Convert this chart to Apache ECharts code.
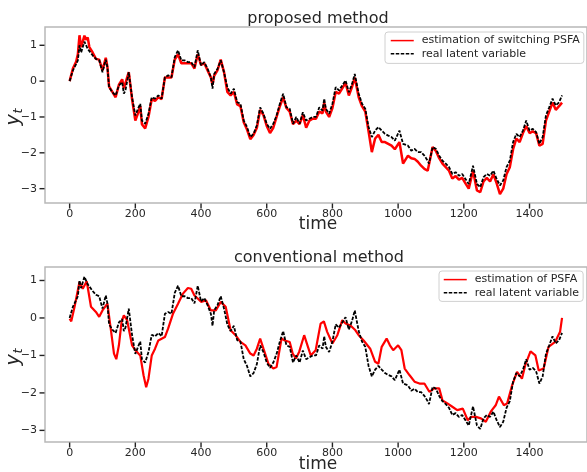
<!DOCTYPE html>
<html>
<head>
<meta charset="utf-8">
<script src="https://cdn.jsdelivr.net/npm/echarts@6/dist/echarts.min.js"></script>
<style>html,body{margin:0;padding:0;background:#fff;}#c{width:587px;height:472px;}</style>
</head>
<body>
<div id="c"></div>
<script>
// ---- data ----
var xTicks = [0, 200, 400, 600, 800, 1000, 1200, 1400];
var yTicks = [-3, -2, -1, 0, 1];

var latentT = [0,3,10,20,25,30,35,40,45,50,55,60,70,80,90,100,110,115,120,130,140,150,160,165,170,180,190,200,210,215,220,230,240,250,260,270,280,290,300,310,320,330,340,350,360,370,380,390,400,410,420,430,435,440,450,460,470,480,490,500,510,520,530,540,550,560,570,580,590,600,610,620,630,640,650,660,670,680,690,700,710,720,730,740,750,760,770,775,780,790,800,810,820,830,840,850,860,868,880,890,900,910,920,930,940,950,960,970,980,990,1004,1015,1030,1040,1050,1060,1070,1080,1090,1094,1105,1115,1125,1135,1145,1155,1165,1175,1185,1195,1205,1215,1228,1240,1250,1260,1270,1280,1290,1300,1310,1320,1330,1340,1350,1360,1370,1380,1390,1400,1410,1420,1430,1440,1450,1460,1470,1480,1490,1499];
var latentY = [0.0,-0.05,0.3,0.48,0.58,1.0,0.8,0.95,1.1,1.05,0.9,0.86,0.72,0.62,0.58,0.25,0.6,0.39,-0.17,-0.31,-0.4,-0.12,-0.03,-0.35,-0.26,0.25,-0.45,-0.96,-0.73,-0.63,-1.1,-1.19,-0.91,-0.45,-0.49,-0.4,-0.49,0.11,0.16,0.11,0.67,0.86,0.58,0.58,0.53,0.53,0.39,0.86,0.44,0.53,0.34,0.11,-0.21,0.2,0.34,0.58,0.25,-0.17,-0.35,-0.21,-0.59,-0.63,-1.1,-1.28,-1.56,-1.47,-1.23,-0.73,-0.91,-1.19,-1.33,-1.19,-0.96,-0.63,-0.35,-0.73,-0.77,-1.19,-1.0,-1.19,-0.87,-1.1,-1.05,-1.0,-1.0,-0.73,-0.82,-0.49,-0.77,-0.91,-0.63,-0.17,-0.26,-0.12,0.02,-0.31,-0.07,0.2,-0.35,-0.63,-0.77,-1.28,-1.56,-1.38,-1.28,-1.38,-1.47,-1.52,-1.56,-1.66,-1.38,-1.75,-1.8,-1.94,-1.89,-1.98,-1.98,-2.08,-2.22,-2.3,-1.84,-1.89,-2.08,-2.22,-2.3,-2.4,-2.59,-2.54,-2.64,-2.59,-2.73,-2.87,-2.36,-2.87,-2.96,-2.68,-2.59,-2.64,-2.5,-2.73,-2.91,-2.77,-2.4,-2.22,-1.7,-1.47,-1.56,-1.38,-1.1,-1.38,-1.33,-1.42,-1.75,-1.56,-0.96,-0.73,-0.49,-0.68,-0.59,-0.4];

// proposed method estimate (switching PSFA), same time stamps as latentT
var propY = [0.0,0.0,0.35,0.55,0.75,1.28,0.95,1.1,1.27,1.15,1.22,0.95,0.8,0.62,0.6,0.3,0.65,0.4,-0.15,-0.3,-0.45,-0.1,0.05,-0.2,-0.15,0.25,-0.5,-1.1,-0.85,-0.7,-1.2,-1.32,-1.0,-0.5,-0.55,-0.45,-0.5,0.1,0.1,0.1,0.6,0.75,0.5,0.5,0.5,0.5,0.35,0.75,0.45,0.5,0.3,0.1,-0.1,0.15,0.3,0.6,0.25,-0.3,-0.4,-0.3,-0.65,-0.7,-1.15,-1.35,-1.62,-1.5,-1.3,-0.8,-0.95,-1.25,-1.45,-1.3,-1.0,-0.7,-0.45,-0.75,-0.85,-1.2,-1.1,-1.2,-0.95,-1.3,-1.1,-1.05,-1.05,-0.85,-0.9,-0.6,-0.85,-1.0,-0.75,-0.3,-0.35,-0.2,-0.05,-0.4,-0.15,0.1,-0.45,-0.7,-0.85,-1.4,-1.98,-1.6,-1.5,-1.7,-1.7,-1.75,-1.8,-1.9,-1.7,-2.3,-2.08,-2.15,-2.17,-2.25,-2.36,-2.45,-2.5,-2.55,-1.84,-1.95,-2.15,-2.3,-2.4,-2.5,-2.72,-2.65,-2.75,-2.7,-2.85,-3.0,-2.5,-3.05,-3.1,-2.8,-2.7,-2.8,-2.6,-2.85,-3.15,-3.0,-2.6,-2.4,-1.9,-1.6,-1.7,-1.45,-1.25,-1.45,-1.4,-1.45,-1.8,-1.75,-1.1,-0.85,-0.6,-0.8,-0.7,-0.6];

// conventional method estimate (PSFA)
var convT = [0,5,15,30,40,52,65,80,90,100,115,125,135,142,150,158,165,175,190,200,215,225,233,240,250,260,270,290,300,315,330,345,360,370,380,390,400,415,430,445,460,475,490,505,520,535,550,560,570,580,590,605,620,630,645,655,670,679,689,699,714,724,734,749,764,774,784,800,815,830,840,855,870,880,895,915,930,940,950,965,975,985,1000,1010,1020,1035,1050,1065,1080,1095,1110,1125,1135,1150,1165,1180,1197,1212,1222,1237,1252,1267,1282,1297,1307,1322,1332,1347,1362,1377,1387,1403,1418,1428,1443,1458,1478,1493,1499];
var convY = [-0.02,-0.09,0.3,0.96,0.78,0.98,0.3,0.16,0.03,0.2,0.38,-0.28,-0.95,-1.1,-0.73,-0.11,0.07,-0.06,-0.73,-0.86,-1.0,-1.53,-1.85,-1.62,-1.0,-0.82,-0.6,-0.51,-0.28,0.12,0.38,0.65,0.8,0.78,0.6,0.52,0.43,0.47,0.2,0.2,0.43,0.3,-0.33,-0.46,-0.64,-0.73,-0.95,-1.0,-0.82,-0.55,-0.82,-1.22,-1.35,-1.31,-0.55,-0.6,-0.64,-0.95,-1.08,-0.9,-0.46,-0.73,-1.0,-0.86,-0.15,-0.09,-0.37,-0.68,-0.46,-0.06,-0.15,-0.2,-0.33,-0.46,-0.6,-0.82,-1.17,-1.22,-0.77,-0.55,-0.73,-0.86,-0.73,-0.86,-1.35,-1.53,-1.7,-1.75,-1.75,-1.97,-1.88,-1.88,-2.2,-2.28,-2.37,-2.46,-2.42,-2.73,-2.64,-2.64,-2.68,-2.77,-2.5,-2.33,-2.1,-2.33,-2.28,-1.8,-1.44,-1.62,-1.26,-0.89,-1.0,-1.4,-1.35,-0.77,-0.64,-0.37,0.0];

var titles = ['proposed method', 'conventional method'];
var nameProp = 'estimation of switching PSFA';
var nameConv = 'estimation of PSFA';
var nameLatent = 'real latent variable';

function pairs(t, y) {
  var n = Math.min(t.length, y.length), out = [];
  for (var i = 0; i < n; i++) out.push([t[i], y[i]]);
  return out;
}

var FONT = 'DejaVu Sans';
var TXT = '#262626';
var FRAME = '#b8b8b8';
var TICKLEN = 5;
var yRanges = [[-3.40, 1.51], [-3.31, 1.36]];
var xRange = [-75, 1575];

function xAx(idx) {
  return {
    type: 'value', gridIndex: idx, min: xRange[0], max: xRange[1],
    splitLine: {show: false},
    axisLine: {show: false, onZero: false},
    axisTick: {show: false},
    axisLabel: {customValues: xTicks, fontSize: 11, color: TXT, fontFamily: FONT, margin: 6,
      formatter: function (v) { return String(v); }}
  };
}
function yAx(idx) {
  return {
    type: 'value', gridIndex: idx, min: yRanges[idx][0], max: yRanges[idx][1],
    splitLine: {show: false},
    axisLine: {show: false, onZero: false},
    axisTick: {show: false},
    axisLabel: {customValues: yTicks, fontSize: 11, color: TXT, fontFamily: FONT, margin: 8,
      formatter: function (v) { return v < 0 ? '\u2212' + Math.abs(v) : String(v); }}
  };
}

function ylabel(x, y) {
  return [
    {type: 'text', x: x, y: y + 3, rotation: Math.PI / 2, style: {text: 'y', font: 'italic 19px "DejaVu Sans"', fill: TXT, textAlign: 'center', textVerticalAlign: 'middle'}},
    {type: 'text', x: x + 5, y: y - 6, rotation: Math.PI / 2, style: {text: 't', font: 'italic 13px "DejaVu Sans"', fill: TXT, textAlign: 'center', textVerticalAlign: 'middle'}}
  ];
}

var blackStyle = {color: '#000', width: 1.8, type: [3.5, 1.5]};
var legendCommon = {
  orient: 'vertical', itemWidth: 23, itemHeight: 14, itemGap: 2,
  backgroundColor: 'rgba(255,255,255,0.85)', borderColor: '#d0d0d0', borderWidth: 1, borderRadius: 3,
  textStyle: {fontSize: 11, color: TXT, fontFamily: FONT, padding: [0, 0, 0, 3]},
  itemStyle: {opacity: 0, color: 'rgba(0,0,0,0)', borderWidth: 0},
  lineStyle: {width: 1.5},
  selectedMode: false
};

var baseGraphic = [
  {type: 'text', x: 318, y: 19, style: {text: titles[0], font: '16px "DejaVu Sans"', fill: TXT, textAlign: 'center', textVerticalAlign: 'middle'}},
  {type: 'text', x: 319, y: 258, style: {text: titles[1], font: '16px "DejaVu Sans"', fill: TXT, textAlign: 'center', textVerticalAlign: 'middle'}},
  {type: 'text', x: 318, y: 225, style: {text: 'time', font: '17px "DejaVu Sans"', fill: TXT, textAlign: 'center', textVerticalAlign: 'middle'}},
  {type: 'text', x: 318, y: 465, style: {text: 'time', font: '17px "DejaVu Sans"', fill: TXT, textAlign: 'center', textVerticalAlign: 'middle'}}
].concat(ylabel(14, 117)).concat(ylabel(14, 357));

var option = {
  animation: false,
  backgroundColor: '#fff',
  grid: [
    {left: 45, top: 27, width: 547, height: 176, show: true, borderColor: FRAME, borderWidth: 1.5, backgroundColor: 'transparent'},
    {left: 45, top: 267, width: 547, height: 175, show: true, borderColor: FRAME, borderWidth: 1.5, backgroundColor: 'transparent'}
  ],
  xAxis: [xAx(0), xAx(1)],
  yAxis: [yAx(0), yAx(1)],
  legend: [
    Object.assign({}, legendCommon, {data: [nameProp, nameLatent], left: 385, top: 32, padding: [3, 4, 4, 5]}),
    Object.assign({}, legendCommon, {data: [nameConv, nameLatent], left: 439, top: 271, padding: [3, 4, 3, 4]})
  ],
  series: [
    {name: nameProp, type: 'line', xAxisIndex: 0, yAxisIndex: 0, data: pairs(latentT, propY), symbol: 'none',
      lineStyle: {color: '#ff0000', width: 2.5}, itemStyle: {color: '#ff0000'}},
    {name: nameLatent, type: 'line', xAxisIndex: 0, yAxisIndex: 0, data: pairs(latentT, latentY), symbol: 'none',
      lineStyle: blackStyle, itemStyle: {color: '#000'}},
    {name: nameConv, type: 'line', xAxisIndex: 1, yAxisIndex: 1, data: pairs(convT, convY), symbol: 'none',
      lineStyle: {color: '#ff0000', width: 2.2}, itemStyle: {color: '#ff0000'}},
    {name: nameLatent, type: 'line', xAxisIndex: 1, yAxisIndex: 1, data: pairs(latentT, latentY), symbol: 'none',
      lineStyle: blackStyle, itemStyle: {color: '#000'}}
  ],
  graphic: baseGraphic
};

var chart = echarts.init(document.getElementById('c'), null, {renderer: 'canvas'});
chart.setOption(option);

// tick marks placed through the chart's own axis scales
var ticks = [];
for (var g = 0; g < 2; g++) {
  var yBottom = chart.convertToPixel({yAxisIndex: g}, yRanges[g][0]);
  var xLeft = chart.convertToPixel({xAxisIndex: g}, xRange[0]);
  xTicks.forEach(function (v) {
    var px = chart.convertToPixel({xAxisIndex: g}, v);
    ticks.push({type: 'rect', silent: true, z: 100,
      shape: {x: px - 0.7, y: yBottom + 0.5, width: 1.4, height: TICKLEN},
      style: {fill: '#222'}});
  });
  yTicks.forEach(function (v) {
    var py = chart.convertToPixel({yAxisIndex: g}, v);
    ticks.push({type: 'rect', silent: true, z: 100,
      shape: {x: xLeft - TICKLEN - 0.5, y: py - 0.7, width: TICKLEN, height: 1.4},
      style: {fill: '#222'}});
  });
}
chart.setOption({graphic: baseGraphic.concat(ticks)});
</script>
</body>
</html>
